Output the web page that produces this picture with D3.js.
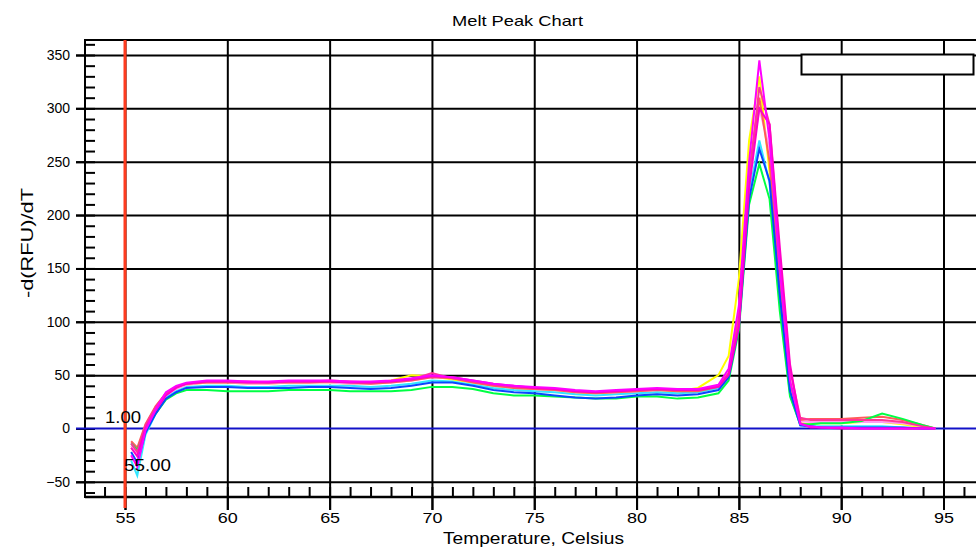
<!DOCTYPE html>
<html>
<head>
<meta charset="utf-8">
<script src="https://cdn.jsdelivr.net/npm/d3@7"></script>
<style>
  body { margin: 0; background: #fff; }
  text { font-family: "Liberation Sans", Arial, sans-serif; fill: #000; }
</style>
</head>
<body>
<div id="container"></div>
<script>
// data

const temps = [55.3, 55.6, 56, 56.5, 57, 57.5, 58,
  59, 60, 61, 62, 63, 64, 65, 66, 67, 68,
  69, 70, 71, 72, 73, 74, 75, 76, 77, 78,
  79, 80, 81, 82, 83,
  84, 84.5, 85, 85.5, 86, 86.5, 87, 87.5, 88, 88.5,
  89, 90, 91, 92, 93, 94, 94.6]

const magentaA = [-25, -36, -2, 18, 34, 40, 43,
  45, 45, 44, 44, 45, 45, 45, 44, 44, 45,
  47, 50, 48, 45, 42, 40, 39, 38, 36, 35,
  36, 37, 38, 37, 37,
  41, 56, 115, 250, 345, 270, 150, 45, 4, 2,
  1, 1, 0, 0, 0, 0, 0]
const hotPink = [-14, -22, 3, 20, 33, 39, 42,
  44, 44, 44, 43, 44, 44, 45, 44, 43, 44,
  46, 52, 47, 44, 41, 39, 38, 37, 35, 34,
  35, 36, 37, 36, 36,
  40, 52, 100, 235, 320, 285, 160, 55, 10, 8,
  8, 8, 8, 8, 6, 2, 0]
const yellow = [-18, -25, 2, 19, 32, 38, 41,
  43, 43, 42, 42, 43, 43, 43, 42, 42, 45,
  50, 49, 46, 43, 40, 38, 37, 36, 34, 33,
  34, 35, 36, 35, 38,
  50, 68, 140, 270, 330, 240, 120, 35, 5, 4,
  5, 5, 6, 6, 4, 1, 0]
const salmon = [-12, -18, 4, 21, 33, 39, 42,
  43, 43, 43, 43, 43, 43, 44, 43, 42, 43,
  45, 48, 47, 43, 40, 38, 37, 36, 34, 33,
  34, 35, 36, 35, 35,
  39, 50, 105, 240, 310, 250, 135, 42, 8, 9,
  9, 9, 10, 11, 8, 3, 0]
const lightPink = [-16, -24, 1, 18, 31, 37, 41,
  43, 43, 42, 42, 43, 43, 43, 42, 42, 43,
  45, 48, 47, 44, 41, 39, 37, 36, 35, 34,
  34, 35, 36, 36, 36,
  40, 54, 108, 238, 300, 262, 140, 45, 7, 6,
  6, 6, 6, 6, 5, 2, 0]
const white = [-20, -30, -1, 16, 30, 36, 40,
  42, 41, 41, 41, 41, 42, 42, 41, 41, 42,
  43, 46, 46, 43, 40, 37, 36, 35, 34, 33,
  33, 34, 35, 34, 35,
  39, 52, 110, 232, 280, 240, 128, 38, 5, 4,
  4, 4, 4, 4, 3, 1, 0]
const cyan = [-30, -44, -6, 14, 29, 35, 39,
  40, 40, 39, 39, 40, 40, 40, 40, 39, 40,
  42, 45, 44, 41, 38, 36, 35, 34, 32, 31,
  32, 33, 34, 33, 34,
  38, 50, 100, 220, 270, 230, 118, 32, 3, 2,
  2, 2, 2, 2, 1, 0, 0]
const blue = [-22, -32, -4, 14, 28, 34, 38,
  39, 39, 38, 38, 38, 39, 39, 38, 37, 38,
  40, 43, 43, 40, 36, 34, 33, 31, 29, 28,
  29, 31, 32, 31, 32,
  36, 48, 95, 215, 262, 232, 125, 35, 3, 2,
  1, 1, 1, 1, 1, 0, 0]
const green = [-14, -20, -2, 14, 27, 33, 36,
  36, 35, 35, 35, 36, 36, 36, 35, 35, 35,
  36, 39, 39, 37, 33, 31, 31, 30, 29, 28,
  28, 30, 30, 28, 29,
  33, 45, 92, 210, 248, 215, 110, 30, 4, 4,
  5, 5, 7, 14, 9, 3, 0]
const magentaB = [-18, -26, 0, 17, 31, 38, 42,
  44, 44, 43, 43, 44, 44, 44, 43, 43, 44,
  46, 49, 48, 45, 42, 40, 38, 37, 35, 34,
  35, 36, 37, 36, 36,
  39, 50, 95, 225, 300, 285, 170, 60, 5, 1,
  1, 0, 0, 0, 0, 0, 0]

// drawing order, bottom first
const wells = [
  { color: "#ffffff", values: white },
  { color: "#ffff00", values: yellow },
  { color: "#33e6ff", values: cyan },
  { color: "#ff9cf0", values: lightPink },
  { color: "#ff5a5a", values: salmon },
  { color: "#00ff44", values: green },
  { color: "#0a46ff", values: blue },
  { color: "#ff3399", values: hotPink },
  { color: "#ff00c8", values: magentaB },
  { color: "#ff00ff", values: magentaA }
]

const xMajor = [55, 60, 65, 70, 75, 80, 85, 90, 95]
const yMajor = [-50, 0, 50, 100, 150, 200, 250, 300, 350]
const xMinor = d3.range(54, 97, 1)
const yMinor = d3.range(-60, 361, 10)

// layout

const width = 976
const height = 548
const plotLeft = 85, plotTop = 40, plotBottom = 497, plotRight = 976

const xScale = d3.scaleLinear()
  .domain([55, 95])
  .range([125, 943.5])

const yScale = d3.scaleLinear()
  .domain([0, 350])
  .range([428.5, 55])

const svg = d3.select("#container")
  .append("svg")
  .attr("width", width)
  .attr("height", height)

svg.append("rect").attr("width", width).attr("height", height).attr("fill", "#fff")

svg.append("defs").append("clipPath").attr("id", "plot")
  .append("rect")
  .attr("x", plotLeft).attr("y", plotTop)
  .attr("width", plotRight - plotLeft).attr("height", plotBottom - plotTop)

// grid lines

const yGrid = svg.append("g")
  .attr("transform", "translate(76,0)")
  .call(d3.axisLeft(yScale).tickValues(yMajor.filter(d => d !== 0)).tickSize(-(plotRight - 76)).tickFormat(""))
yGrid.select(".domain").remove()
yGrid.selectAll("line").attr("stroke", "#000").attr("stroke-width", 2)

const xGrid = svg.append("g")
  .attr("transform", "translate(0,510)")
  .call(d3.axisBottom(xScale).tickValues(xMajor).tickSize(-(510 - plotTop)).tickFormat(""))
xGrid.select(".domain").remove()
xGrid.selectAll("line").attr("stroke", "#000").attr("stroke-width", 2)

// minor ticks

const xMinorAxis = svg.append("g")
  .attr("transform", `translate(0,${plotBottom})`)
  .call(d3.axisBottom(xScale).tickValues(xMinor).tickSize(-10).tickFormat(""))
xMinorAxis.select(".domain").remove()
xMinorAxis.selectAll("line").attr("stroke", "#000").attr("stroke-width", 2)

const yMinorAxis = svg.append("g")
  .attr("transform", `translate(${plotLeft},0)`)
  .call(d3.axisLeft(yScale).tickValues(yMinor).tickSize(-10).tickFormat(""))
yMinorAxis.select(".domain").remove()
yMinorAxis.selectAll("line").attr("stroke", "#000").attr("stroke-width", 2)

// axes with labels

const xAxis = svg.append("g")
  .attr("transform", `translate(0,${plotBottom})`)
  .call(d3.axisBottom(xScale).tickValues(xMajor).tickSize(13).tickPadding(2.5).tickFormat(d3.format("d")))
xAxis.select(".domain").remove()
xAxis.selectAll("line").attr("stroke", "#000").attr("stroke-width", 2)
xAxis.selectAll("text")
  .style("font-size", "15px")
  .style("font-family", "'Liberation Sans', Arial, sans-serif")
  .attr("textLength", 20).attr("lengthAdjust", "spacingAndGlyphs")

const yAxis = svg.append("g")
  .attr("transform", `translate(${plotLeft},0)`)
  .call(d3.axisLeft(yScale).tickValues(yMajor).tickSize(9).tickPadding(6))
yAxis.select(".domain").remove()
yAxis.selectAll("line").attr("stroke", "#000").attr("stroke-width", 2)
yAxis.selectAll("text")
  .style("font-size", "14px")
  .style("font-family", "'Liberation Sans', Arial, sans-serif")

// frame
svg.append("line").attr("x1", plotLeft).attr("x2", plotRight).attr("y1", plotTop).attr("y2", plotTop)
  .attr("stroke", "#000").attr("stroke-width", 2)
svg.append("line").attr("x1", plotLeft).attr("x2", plotLeft).attr("y1", plotTop - 1).attr("y2", plotBottom + 1)
  .attr("stroke", "#000").attr("stroke-width", 2)
svg.append("line").attr("x1", plotLeft).attr("x2", plotRight).attr("y1", plotBottom).attr("y2", plotBottom)
  .attr("stroke", "#000").attr("stroke-width", 2.5)

// zero line
svg.append("line")
  .attr("x1", 76).attr("x2", plotRight)
  .attr("y1", yScale(0)).attr("y2", yScale(0))
  .attr("stroke", "#1212c8").attr("stroke-width", 2)

// melt curves
const line = d3.line()
  .x((d, i) => xScale(temps[i]))
  .y(d => yScale(d))

svg.append("g")
  .attr("clip-path", "url(#plot)")
  .selectAll("path")
  .data(wells)
  .join("path")
  .attr("d", d => line(d.values))
  .attr("fill", "none")
  .attr("stroke", d => d.color)
  .attr("stroke-width", 2)

// threshold marker
svg.append("line")
  .attr("x1", xScale(55)).attr("x2", xScale(55))
  .attr("y1", plotTop).attr("y2", 508)
  .attr("stroke", "#ff3b1f").attr("stroke-width", 3)

svg.append("text").attr("x", 105).attr("y", 423)
  .style("font-size", "16px").attr("textLength", 36).attr("lengthAdjust", "spacingAndGlyphs")
  .text("1.00")
svg.append("text").attr("x", 124).attr("y", 471)
  .style("font-size", "16px").attr("textLength", 47).attr("lengthAdjust", "spacingAndGlyphs")
  .text("55.00")

// legend box
svg.append("rect")
  .attr("x", 801.5).attr("y", 54.5).attr("width", 172).attr("height", 20)
  .attr("fill", "#fff").attr("stroke", "#000").attr("stroke-width", 2)

// titles
svg.append("text").attr("x", 517.5).attr("y", 26).attr("text-anchor", "middle")
  .style("font-size", "15px").attr("textLength", 131).attr("lengthAdjust", "spacingAndGlyphs")
  .text("Melt Peak Chart")

svg.append("text").attr("x", 533.5).attr("y", 544).attr("text-anchor", "middle")
  .style("font-size", "16px").attr("textLength", 181).attr("lengthAdjust", "spacingAndGlyphs")
  .text("Temperature, Celsius")

svg.append("text")
  .attr("transform", "translate(33,243) rotate(-90)")
  .attr("text-anchor", "middle")
  .style("font-size", "16px").attr("textLength", 110).attr("lengthAdjust", "spacingAndGlyphs")
  .text("-d(RFU)/dT")
</script>
</body>
</html>
